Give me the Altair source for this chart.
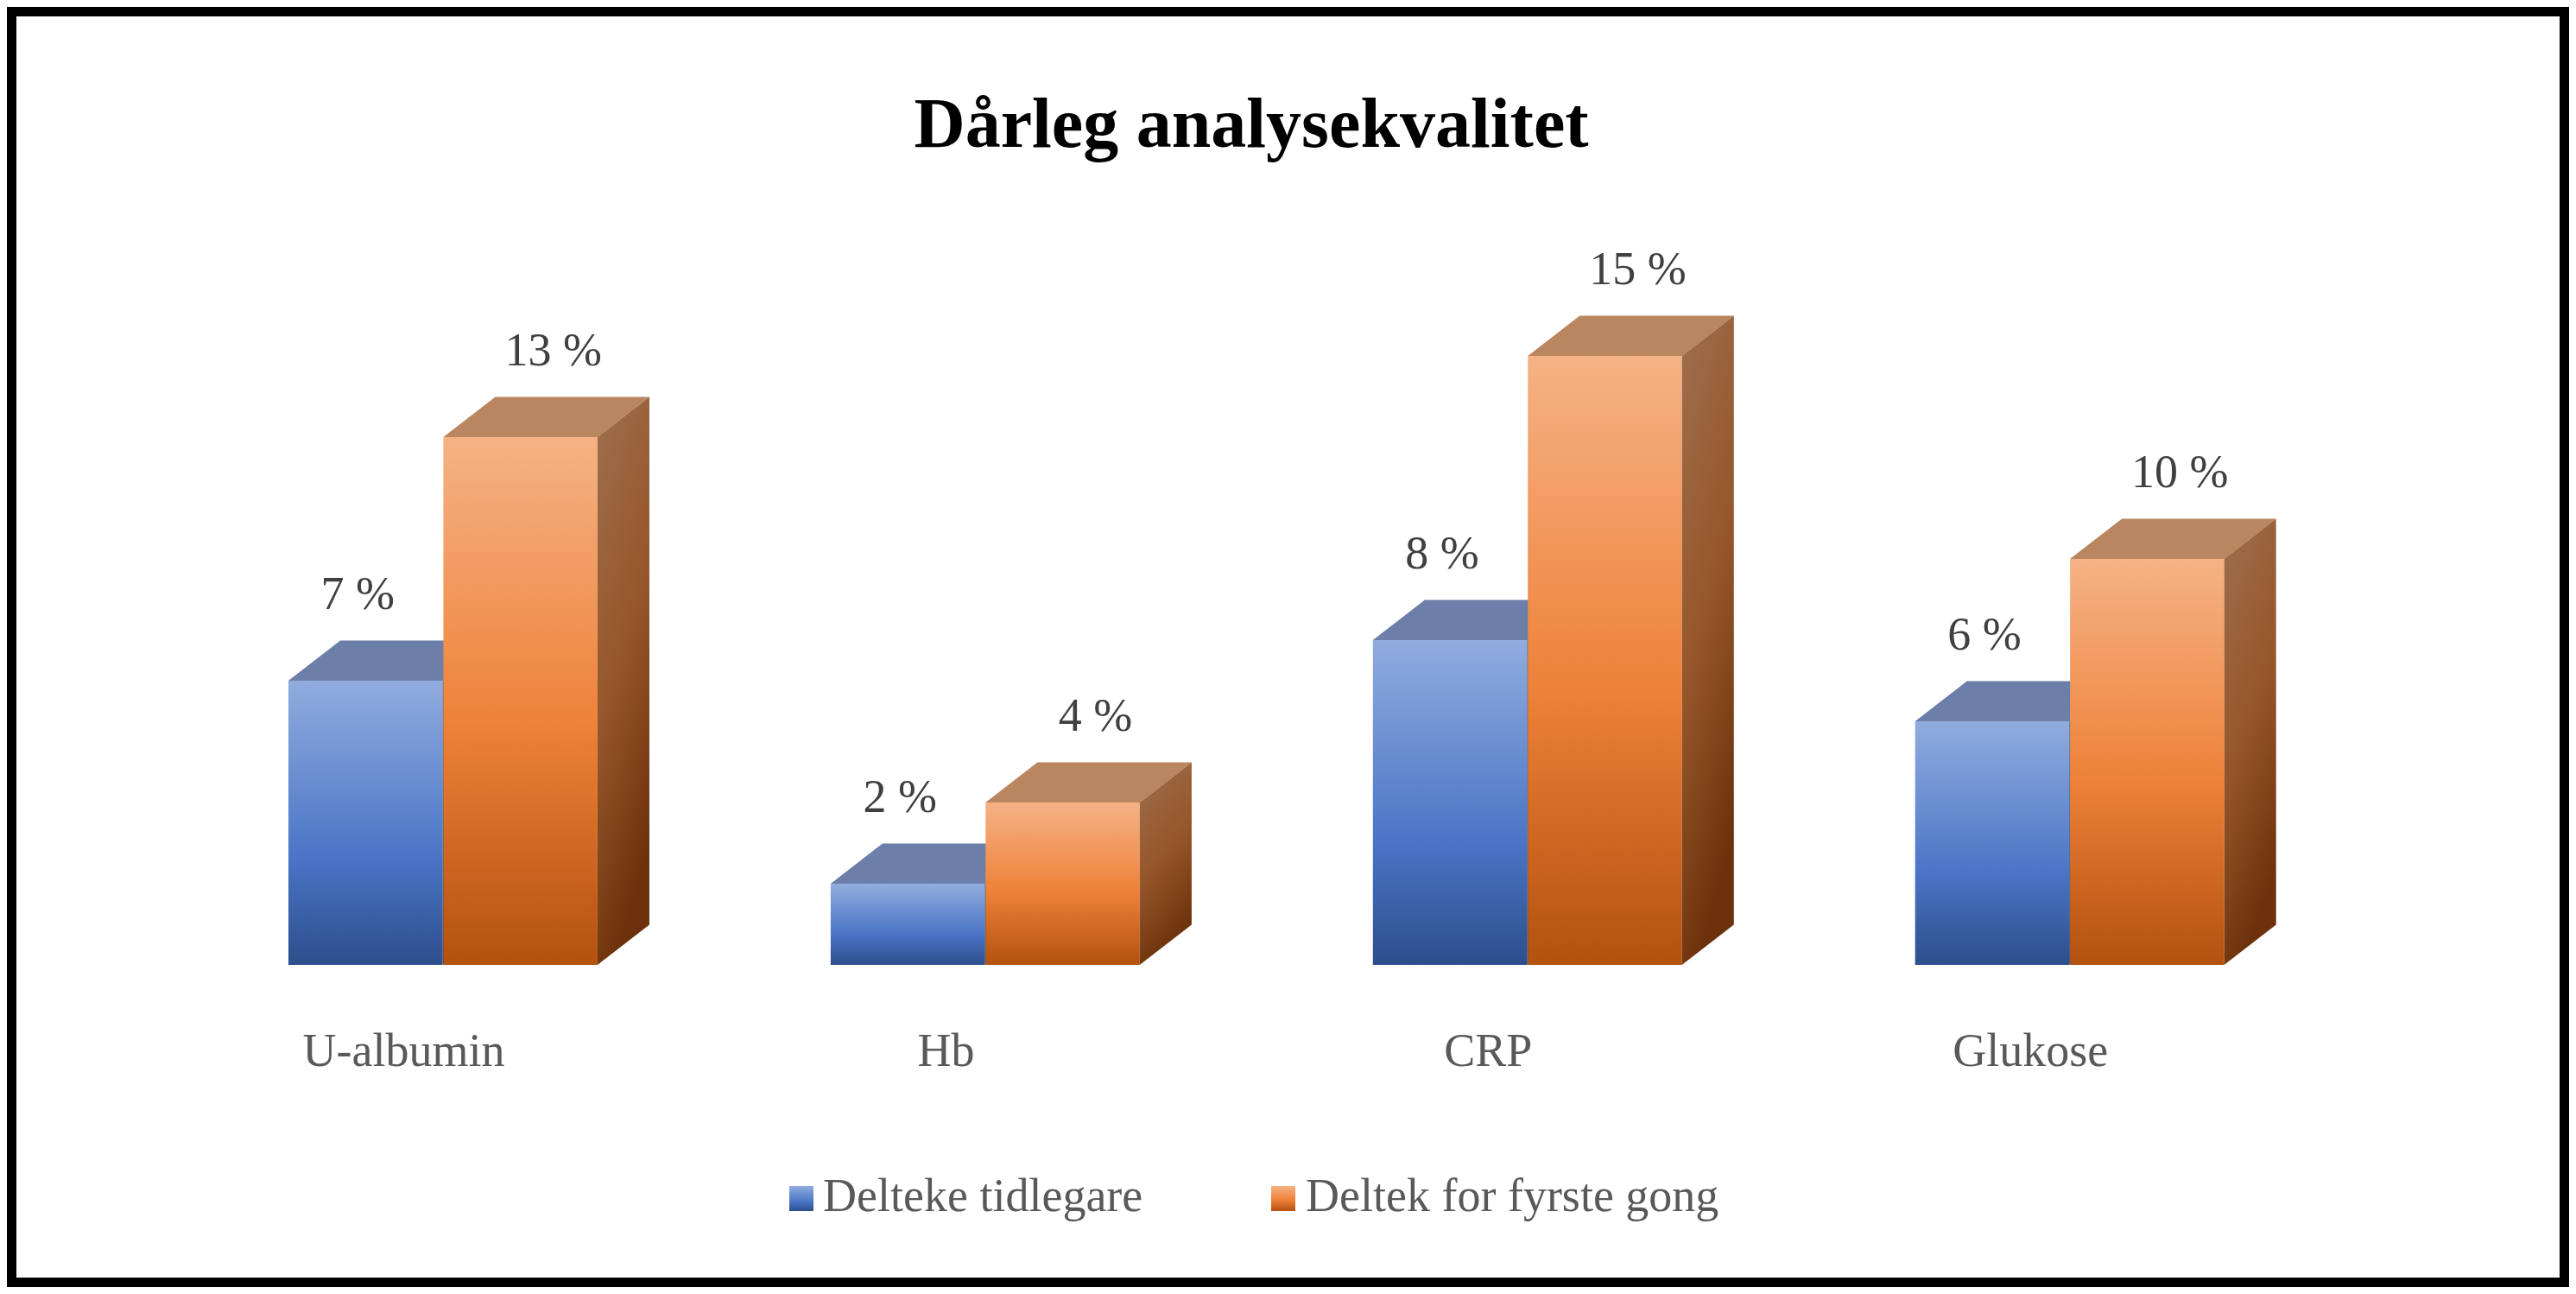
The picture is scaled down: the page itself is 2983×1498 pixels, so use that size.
import altair as alt
import pandas as pd

# ---------------- data ----------------
categories = ["U-albumin", "Hb", "CRP", "Glukose"]
series = ["Delteke tidlegare", "Deltek for fyrste gong"]
earlier = [7, 2, 8, 6]          # Delteke tidlegare (%)
first_time = [13, 4, 15, 10]    # Deltek for fyrste gong (%)
title_text = "Dårleg analysekvalitet"
series_values = [earlier, first_time]

# ---------------- layout / style constants ----------------
W, H = 2967, 1482
UNIT_PX = 179.4        # pixels per bar-width unit
ORIGIN_X = 326         # pixel position of the first bar's left edge
BASE_Y = 1109          # pixel position of the value 0 baseline
PX_PER_PCT = 47.0
GROUP_STEP = 3.5       # category spacing in bar widths
BAR_W = 0.995
DEPTH_X = 0.335        # 3-D depth offset (bar-width units)
DEPTH_Y = 0.99         # 3-D depth offset (percent units)

x_domain = [-ORIGIN_X / UNIT_PX, (W - ORIGIN_X) / UNIT_PX]
y_domain = [(BASE_Y - H) / PX_PER_PCT, BASE_Y / PX_PER_PCT]
xs = alt.Scale(domain=x_domain, nice=False, zero=False)
ys = alt.Scale(domain=y_domain, nice=False, zero=False)

FONT = "Liberation Serif"

front_grad = [
    alt.Gradient(gradient="linear", x1=0, x2=0, y1=0, y2=1, stops=[
        alt.GradientStop(color="#91acde", offset=0),
        alt.GradientStop(color="#4a75c6", offset=0.62),
        alt.GradientStop(color="#2c4e8c", offset=1)]),
    alt.Gradient(gradient="linear", x1=0, x2=0, y1=0, y2=1, stops=[
        alt.GradientStop(color="#f5b285", offset=0),
        alt.GradientStop(color="#ee8138", offset=0.55),
        alt.GradientStop(color="#b3510f", offset=1)]),
]
top_color = ["#6b7fa8", "#b98660"]
side_grad = [
    alt.Gradient(gradient="linear", x1=0, x2=0.3, y1=0, y2=1, stops=[
        alt.GradientStop(color="#56709c", offset=0),
        alt.GradientStop(color="#243d68", offset=1)]),
    alt.Gradient(gradient="linear", x1=0, x2=0.3, y1=0, y2=1, stops=[
        alt.GradientStop(color="#9e6f4e", offset=0),
        alt.GradientStop(color="#96562a", offset=0.55),
        alt.GradientStop(color="#6d320c", offset=1)]),
]
label_dx = [-9, 38]

# ---------------- derived tables ----------------
bars, tops, sides = [], [], []
for si, s in enumerate(series):
    for ci, c in enumerate(categories):
        v = series_values[si][ci]
        xa = ci * GROUP_STEP + si
        xb = xa + BAR_W
        bid = f"{si}-{ci}"
        bars.append(dict(cat=c, ci=ci, series=s, si=si, value=v, base=0,
                         xa=xa, xb=xb, xc=xa + BAR_W / 2,
                         ylab=v + DEPTH_Y, label=f"{v} %"))
        for x, yt, yb in [(xa, v, v), (xa + DEPTH_X, v + DEPTH_Y, v),
                          (xb, v + DEPTH_Y, v), (xb + DEPTH_X, v + DEPTH_Y, v + DEPTH_Y)]:
            tops.append(dict(id=bid, si=si, x=x, yt=yt, yb=yb))
        for x, yt, yb in [(xb, v, 0), (xb + DEPTH_X, v + DEPTH_Y, DEPTH_Y)]:
            sides.append(dict(id=bid, si=si, x=x, yt=yt, yb=yb))

bars = pd.DataFrame(bars)
tops = pd.DataFrame(tops)
sides = pd.DataFrame(sides)

layers = []
for si in range(len(series)):
    b = bars[bars.si == si]
    t = tops[tops.si == si]
    sd = sides[sides.si == si]
    layers.append(
        alt.Chart(b).mark_rect(color=front_grad[si]).encode(
            x=alt.X("xa:Q", scale=xs, axis=None), x2="xb:Q",
            y=alt.Y("value:Q", scale=ys, axis=None), y2="base:Q"))
    layers.append(
        alt.Chart(t).mark_area(color=top_color[si], interpolate="linear").encode(
            x=alt.X("x:Q", scale=xs, axis=None),
            y=alt.Y("yt:Q", scale=ys, axis=None), y2="yb:Q",
            detail="id:N"))
    layers.append(
        alt.Chart(sd).mark_area(color=side_grad[si], interpolate="linear").encode(
            x=alt.X("x:Q", scale=xs, axis=None),
            y=alt.Y("yt:Q", scale=ys, axis=None), y2="yb:Q",
            detail="id:N"))

# value labels
for si in range(len(series)):
    b = bars[bars.si == si]
    layers.append(
        alt.Chart(b).mark_text(font=FONT, fontSize=54, color="#404040",
                               baseline="alphabetic", align="center",
                               dx=label_dx[si], dy=-36).encode(
            x=alt.X("xc:Q", scale=xs, axis=None),
            y=alt.Y("ylab:Q", scale=ys, axis=None),
            text="label:N"))

# category labels
cat_df = pd.DataFrame({"cat": categories,
                       "xm": [i * GROUP_STEP + BAR_W for i in range(len(categories))]})
layers.append(
    alt.Chart(cat_df).mark_text(font=FONT, fontSize=54, color="#595959",
                                baseline="alphabetic", align="center", dx=-45).encode(
        x=alt.X("xm:Q", scale=xs, axis=None),
        y=alt.value(1226),
        text="cat:N"))

# title
layers.append(
    alt.Chart(pd.DataFrame({"t": [title_text]})).mark_text(
        font=FONT, fontSize=82, fontWeight="bold", color="#000000",
        baseline="alphabetic", align="center").encode(
        x=alt.value(1441), y=alt.value(162), text="t:N"))

# legend (manual, gradient swatches)
legend_pos = [(906, 945), (1464, 1504)]
for si, s in enumerate(series):
    sq, tx = legend_pos[si]
    d = pd.DataFrame({"label": [s]})
    layers.append(
        alt.Chart(d).mark_rect(color=front_grad[si]).encode(
            x=alt.value(sq), x2=alt.value(sq + 28),
            y=alt.value(1365), y2=alt.value(1394)))
    layers.append(
        alt.Chart(d).mark_text(font=FONT, fontSize=54, color="#595959",
                               baseline="alphabetic", align="left").encode(
            x=alt.value(tx), y=alt.value(1394), text="label:N"))

chart = alt.layer(*layers).properties(
    width=W, height=H, padding=0,
    autosize=alt.AutoSizeParams(type="none"),
    background="white",
).configure_view(stroke="black", strokeWidth=22)

chart.save("out.html", embed_options={"renderer": "svg", "actions": False})
